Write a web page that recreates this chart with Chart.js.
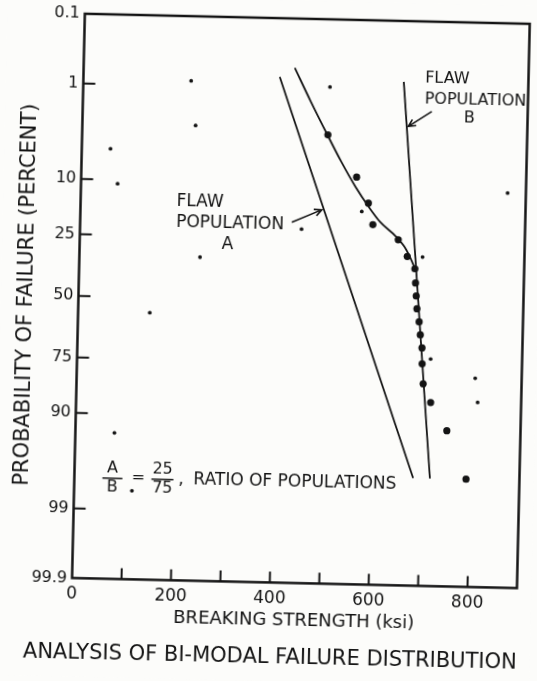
<!DOCTYPE html>
<html>
<head>
<meta charset="utf-8">
<title>Analysis of bi-modal failure distribution</title>
<script src="https://cdn.jsdelivr.net/npm/chart.js@4.4.1/dist/chart.umd.min.js"></script>
<style>
  html, body { margin: 0; padding: 0; background: #fcfcfa; overflow: hidden; }
  /* the scanned sheet sits slightly askew */
  #wrap { width: 537px; height: 681px; transform: rotate(1.3deg); transform-origin: 50% 50%; }
</style>
</head>
<body>
<div id="wrap"><canvas id="chart" width="537" height="681"></canvas></div>
<script>
// measured specimens: breaking strength (ksi) vs probability of failure (%)
const strength   = [497, 557, 582, 592, 644, 663, 679, 681, 683, 685, 690, 693, 697, 698, 701, 717, 751, 792];
const failurePct = [3.4, 8.55, 13.85, 19.7, 24.4, 30.4, 35.2, 41.1, 46.7, 52.3, 57.9, 63.4, 68.6, 74.5, 81.0, 86.0, 91.7, 97.2];

// combined (bi-modal) curve drawn through the data
const curveStrength = [427, 460, 496, 525, 555, 583, 607, 638, 658, 670, 680];
const curvePct      = [0.54, 1.41, 3.4, 6.22, 10.3, 14.8, 18.9, 23.1, 27.1, 31.2, 35.6];

// straight lines for the two flaw populations (end points)
const popAStrength = [397, 685];
const popAPct      = [0.72, 97.2];
const popBStrength = [648, 719];
const popBPct      = [0.77, 97.2];

// stray specks on the scanned sheet
const strayStrength = [218, 229, 58, 74, 244, 145, 79, 117, 499, 448, 569, 694, 863, 715, 806, 812];
const strayPct      = [0.86, 2.91, 5.28, 10.8, 32.5, 56.6, 93.2, 98.3, 0.94, 21.6, 16.0, 30.5, 10.9, 72.7, 78.9, 85.7];

// probability axis
const probTicks      = [0.1, 1, 10, 25, 50, 75, 90, 99, 99.9];
const probTickLabels = ['0.1', '1', '10', '25', '50', '75', '90', '99', '99.9'];

// where the hand lettering sits (ksi, %)
const labelA = { ksi: 194, pct: 14.5 };
const labelB = { ksi: 691, pct: 0.67 };
const arrowA = { from: [428, 19.5], to: [488, 15.8] };
const arrowB = { from: [706, 1.76], to: [659, 2.64] };
const ratioAt = { ksi: 77, pct: 97.6 };

const ink = '#141414';
const family = "'DejaVu Sans', 'Liberation Sans', sans-serif";

// inverse normal CDF (Acklam) -> normal probability paper
function probit(p) {
  const a = [-3.969683028665376e+01, 2.209460984245205e+02, -2.759285104469687e+02, 1.383577518672690e+02, -3.066479806614716e+01, 2.506628277459239e+00];
  const b = [-5.447609879822406e+01, 1.615858368580409e+02, -1.556989798598866e+02, 6.680131188771972e+01, -1.328068155288572e+01];
  const c = [-7.784894002430293e-03, -3.223964580411365e-01, -2.400758277161838e+00, -2.549732539343734e+00, 4.374664141464968e+00, 2.938163982698783e+00];
  const d = [7.784695709041462e-03, 3.224671290700398e-01, 2.445134137142996e+00, 3.754408661907416e+00];
  const pl = 0.02425;
  let q, r;
  if (p < pl) {
    q = Math.sqrt(-2 * Math.log(p));
    return (((((c[0]*q+c[1])*q+c[2])*q+c[3])*q+c[4])*q+c[5]) / ((((d[0]*q+d[1])*q+d[2])*q+d[3])*q+1);
  }
  if (p > 1 - pl) {
    q = Math.sqrt(-2 * Math.log(1 - p));
    return -(((((c[0]*q+c[1])*q+c[2])*q+c[3])*q+c[4])*q+c[5]) / ((((d[0]*q+d[1])*q+d[2])*q+d[3])*q+1);
  }
  q = p - 0.5; r = q * q;
  return (((((a[0]*r+a[1])*r+a[2])*r+a[3])*r+a[4])*r+a[5])*q / (((((b[0]*r+b[1])*r+b[2])*r+b[3])*r+b[4])*r+1);
}
const z = pct => probit(pct / 100);
const toPoints = (xs, ps) => xs.map((x, i) => ({ x: x, y: z(ps[i]) }));

// page background
const paper = {
  id: 'paper',
  beforeDraw(chart) {
    const ctx = chart.ctx;
    ctx.save();
    ctx.fillStyle = '#fcfcfa';
    ctx.fillRect(0, 0, chart.width, chart.height);
    ctx.restore();
  }
};

// box frame + inward tick marks + caption under the plot
const frame = {
  id: 'frame',
  afterDraw(chart) {
    const { ctx, chartArea: a, scales: { x, y } } = chart;
    ctx.save();
    ctx.strokeStyle = ink;
    ctx.lineWidth = 2.5;
    ctx.strokeRect(a.left, a.top, a.right - a.left, a.bottom - a.top);
    ctx.lineWidth = 2;
    ctx.beginPath();
    x.ticks.forEach(t => {
      if (t.value <= x.min || t.value >= x.max) return;
      const px = x.getPixelForValue(t.value);
      ctx.moveTo(px, a.bottom);
      ctx.lineTo(px, a.bottom - 11);
    });
    y.ticks.forEach((t, i) => {
      if (i === 0 || i === y.ticks.length - 1) return;
      const py = y.getPixelForValue(t.value);
      ctx.moveTo(a.left, py);
      ctx.lineTo(a.left + 12, py);
    });
    ctx.stroke();

    ctx.fillStyle = ink;
    ctx.font = '21px ' + family;
    ctx.textAlign = 'center';
    ctx.textBaseline = 'middle';
    ctx.fillText('ANALYSIS OF BI-MODAL FAILURE DISTRIBUTION', 277, 658);
    ctx.restore();
  }
};

function arrow(ctx, x0, y0, x1, y1) {
  const ang = Math.atan2(y1 - y0, x1 - x0);
  const len = 8;
  ctx.beginPath();
  ctx.moveTo(x0, y0);
  ctx.lineTo(x1, y1);
  ctx.moveTo(x1 - len * Math.cos(ang - 0.45), y1 - len * Math.sin(ang - 0.45));
  ctx.lineTo(x1, y1);
  ctx.lineTo(x1 - len * Math.cos(ang + 0.45), y1 - len * Math.sin(ang + 0.45));
  ctx.stroke();
}

// hand lettering: population labels, arrows and ratio note
const notes = {
  id: 'notes',
  afterDatasetsDraw(chart) {
    const { ctx, scales: { x, y } } = chart;
    const px = k => x.getPixelForValue(k);
    const py = p => y.getPixelForValue(z(p));
    ctx.save();
    ctx.fillStyle = ink;
    ctx.strokeStyle = ink;
    ctx.lineWidth = 1.6;
    ctx.textBaseline = 'middle';

    // flaw population A
    let lx = px(labelA.ksi), ly = py(labelA.pct);
    ctx.font = '17px ' + family;
    ctx.textAlign = 'left';
    ctx.fillText('FLAW', lx, ly);
    ctx.fillText('POPULATION', lx, ly + 21);
    ctx.textAlign = 'center';
    ctx.fillText('A', lx + 52, ly + 42);
    arrow(ctx, px(arrowA.from[0]), py(arrowA.from[1]), px(arrowA.to[0]), py(arrowA.to[1]));

    // flaw population B
    lx = px(labelB.ksi); ly = py(labelB.pct);
    ctx.font = '16px ' + family;
    ctx.textAlign = 'left';
    ctx.fillText('FLAW', lx, ly);
    ctx.fillText('POPULATION', lx, ly + 21);
    ctx.textAlign = 'center';
    ctx.fillText('B', lx + 45, ly + 39);
    arrow(ctx, px(arrowB.from[0]), py(arrowB.from[1]), px(arrowB.to[0]), py(arrowB.to[1]));

    // A/B = 25/75, RATIO OF POPULATIONS
    const rx = px(ratioAt.ksi), ry = py(ratioAt.pct);
    ctx.font = '16px ' + family;
    ctx.textAlign = 'center';
    ctx.fillText('A', rx, ry - 9);
    ctx.fillText('B', rx, ry + 10);
    ctx.fillText('=', rx + 26, ry);
    ctx.fillText('25', rx + 50, ry - 9);
    ctx.fillText('75', rx + 50, ry + 10);
    ctx.beginPath();
    ctx.moveTo(rx - 10, ry + 1); ctx.lineTo(rx + 10, ry + 1);
    ctx.moveTo(rx + 39, ry + 1); ctx.lineTo(rx + 61, ry + 1);
    ctx.stroke();
    ctx.font = '17px ' + family;
    ctx.textAlign = 'left';
    ctx.fillText(',', rx + 66, ry + 1);
    ctx.fillText('RATIO OF POPULATIONS', rx + 81, ry + 1);
    ctx.restore();
  }
};

const lineStyle = { showLine: true, borderColor: ink, borderWidth: 1.8, pointRadius: 0, fill: false };

new Chart(document.getElementById('chart'), {
  type: 'scatter',
  data: {
    datasets: [
      { label: 'Flaw population A', data: toPoints(popAStrength, popAPct), ...lineStyle },
      { label: 'Flaw population B', data: toPoints(popBStrength, popBPct), ...lineStyle },
      { label: 'Bi-modal fit', data: toPoints(curveStrength, curvePct), ...lineStyle, cubicInterpolationMode: 'monotone' },
      { label: 'Specimens', data: toPoints(strength, failurePct), pointRadius: 3.6, backgroundColor: ink, borderColor: ink, borderWidth: 0 },
      { label: 'Specks', data: toPoints(strayStrength, strayPct), pointRadius: 1.9, backgroundColor: ink, borderColor: ink, borderWidth: 0 },
    ]
  },
  options: {
    responsive: false,
    animation: false,
    devicePixelRatio: 1,
    layout: { padding: { top: 18, right: 14.5, left: 0, bottom: 0 } },
    plugins: { legend: { display: false }, tooltip: { enabled: false } },
    scales: {
      x: {
        type: 'linear', min: 0, max: 900,
        afterFit: s => { s.height = 98.6; },
        grid: { display: false, drawTicks: false },
        border: { display: false },
        ticks: {
          stepSize: 100, autoSkip: false, maxRotation: 0, padding: 6, color: ink,
          font: { family: family, size: 17 },
          callback: v => (v % 200 === 0 ? String(v) : '')
        },
        title: {
          display: true, text: 'BREAKING STRENGTH (ksi)', color: ink,
          font: { family: family, size: 18 }, padding: { top: 0, bottom: 50 }
        }
      },
      y: {
        type: 'linear', reverse: true, min: z(0.1), max: z(99.9),
        afterBuildTicks: s => { s.ticks = probTicks.map(p => ({ value: z(p) })); },
        afterFit: s => { s.width = 77.5; },
        grid: { display: false, drawTicks: false },
        border: { display: false },
        ticks: {
          padding: 5, color: ink, font: { family: family, size: 16 },
          callback: (v, i) => probTickLabels[i]
        },
        title: {
          display: true, text: 'PROBABILITY OF FAILURE (PERCENT)', color: ink,
          font: { family: family, size: 21 }, padding: { top: 13, bottom: 0 }
        }
      }
    }
  },
  plugins: [paper, frame, notes]
});
</script>
</body>
</html>
